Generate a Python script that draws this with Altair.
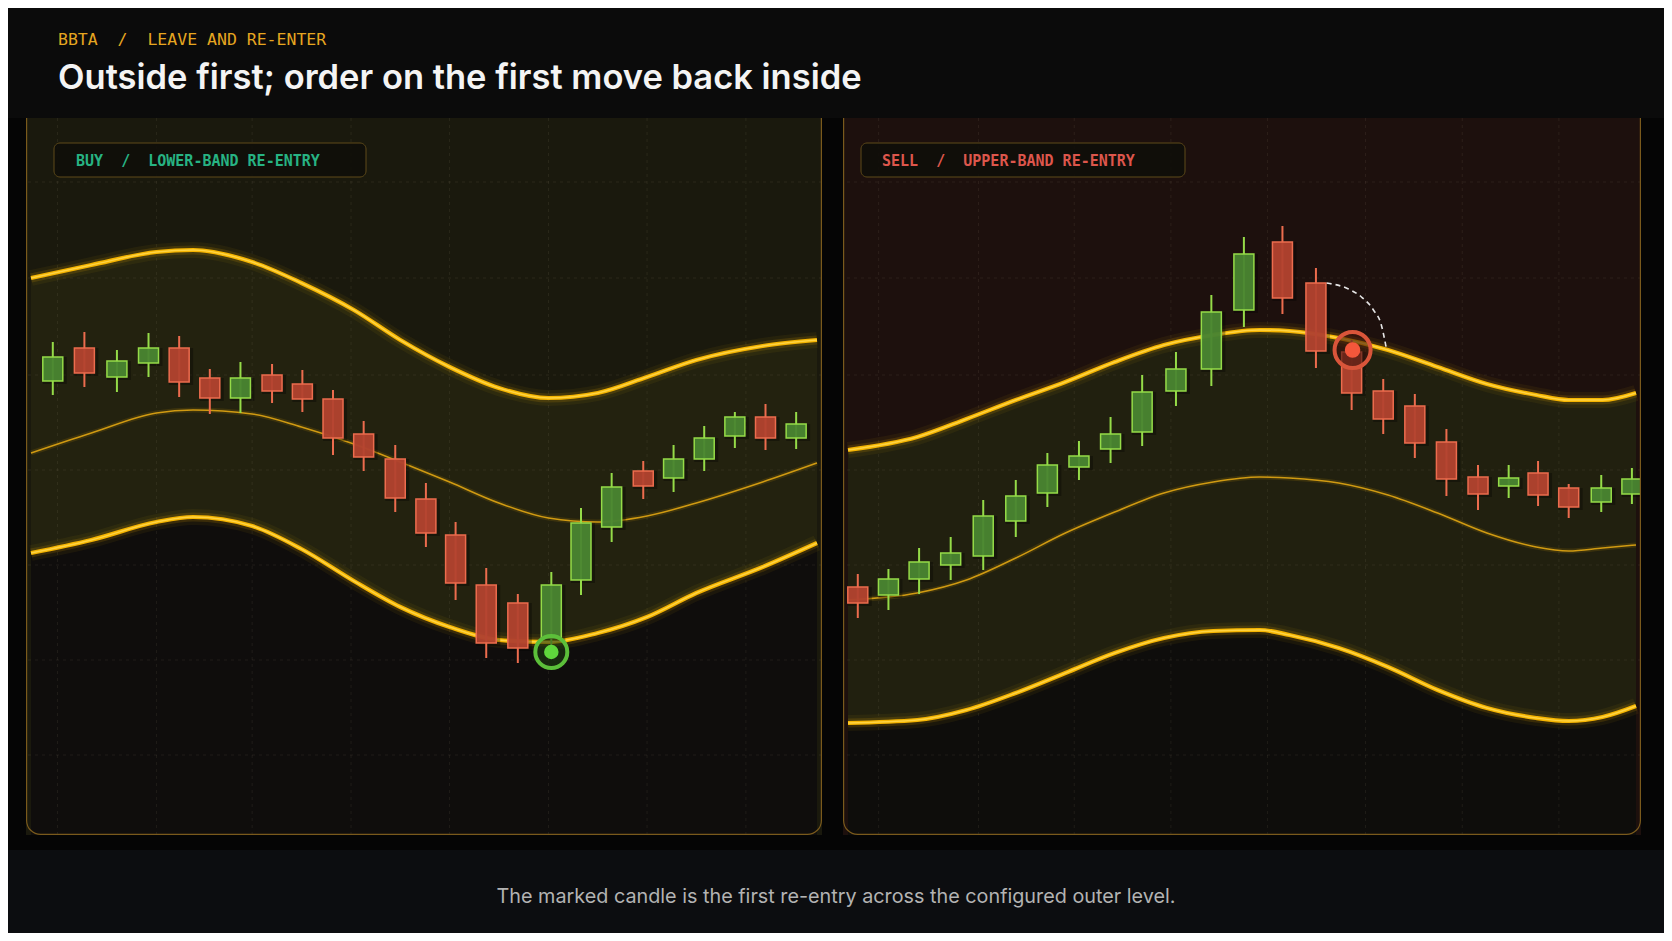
import altair as alt
import numpy as np
import pandas as pd

# ---------------- text ----------------
KICKER = "BBTA\u00a0\u00a0/\u00a0\u00a0LEAVE AND RE-ENTER"
TITLE = "Outside first; order on the first move back inside"
FOOTNOTE = "The marked candle is the first re-entry across the configured outer level."
BUY_LABEL = "BUY\u00a0\u00a0/\u00a0\u00a0LOWER-BAND RE-ENTRY"
SELL_LABEL = "SELL\u00a0\u00a0/\u00a0\u00a0UPPER-BAND RE-ENTRY"

# ---------------- shared scale / grid values ----------------
Y_DOMAIN = [0, 71.7]
GRID_Y = [65.3, 55.7, 46.0, 36.5, 27.0, 17.5, 8.0]

# ---------------- left panel: buy ----------------
BUY_X_DOMAIN = [0, 24.88]
BUY_GRID_X = [0.84, 3.97, 7.0, 10.13, 13.25, 16.38, 19.5, 22.63]
buy_t = [0.69, 1.69, 2.72, 3.72, 4.69, 5.66, 6.63, 7.63, 8.59, 9.56, 10.53, 11.53, 12.5,
         13.44, 14.41, 15.41, 16.47, 17.41, 18.38, 19.38, 20.34, 21.31, 22.28, 23.25, 24.22]
buy_open = [45.4, 48.7, 45.8, 47.2, 48.7, 45.7, 43.7, 46.0, 45.1, 43.6, 40.1, 37.6, 33.6,
            30.0, 25.0, 23.2, 19.7, 25.5, 30.8, 36.4, 35.7, 37.6, 39.9, 41.8, 39.7]
buy_high = [49.3, 50.3, 48.5, 50.2, 49.9, 46.6, 47.3, 47.1, 46.5, 44.5, 41.4, 39.0, 35.2,
            31.3, 26.7, 24.1, 26.3, 32.7, 36.2, 37.4, 39.0, 40.9, 42.3, 43.1, 42.3]
buy_low = [44.0, 44.8, 44.3, 45.8, 43.8, 42.1, 42.2, 43.2, 42.3, 38.0, 36.4, 32.3, 28.8,
           23.5, 17.7, 17.2, 18.3, 24.0, 29.3, 33.6, 34.3, 36.4, 38.7, 38.5, 38.6]
buy_close = [47.8, 46.2, 47.4, 48.7, 45.3, 43.7, 45.7, 44.4, 43.6, 39.7, 37.8, 33.7, 30.2,
             25.2, 19.2, 18.7, 25.0, 31.2, 34.8, 34.9, 37.6, 39.7, 41.8, 39.7, 41.1]
buy_band_t = [0, 1.91, 3.97, 5.13, 7.0, 8.56, 10.22, 11.69, 13.25, 14.81, 16.38, 17.94,
              19.5, 21.06, 23.16, 24.88]
buy_upper = [55.7, 57.0, 58.3, 58.5, 57.3, 55.2, 52.5, 49.5, 46.8, 44.7, 43.7, 44.2,
             45.8, 47.5, 48.9, 49.5]
buy_mid = [38.2, 40.2, 42.2, 42.5, 42.1, 40.8, 39.1, 37.3, 35.3, 33.2, 31.7, 31.3,
           31.9, 33.2, 35.3, 37.2]
buy_lower = [28.2, 29.5, 31.3, 31.8, 30.9, 28.6, 25.4, 22.8, 20.8, 19.5, 19.3, 20.2,
             21.8, 24.2, 26.8, 29.2]
buy_signal_t = [16.47]
buy_signal_p = [18.3]

# ---------------- right panel: sell ----------------
SELL_X_DOMAIN = [0, 24.94]
SELL_GRID_X = [0.97, 4.13, 7.16, 10.22, 13.28, 16.38, 19.44, 22.5]
sell_t = [0.31, 1.28, 2.25, 3.25, 4.28, 5.31, 6.31, 7.31, 8.31, 9.31, 10.38, 11.5, 12.53,
          13.75, 14.81, 15.94, 16.94, 17.94, 18.94, 19.94, 20.91, 21.84, 22.81, 23.84, 24.81]
sell_open = [24.8, 24.0, 25.6, 27.0, 27.9, 31.4, 34.2, 36.8, 38.6, 40.3, 44.4, 46.6, 52.5,
             59.3, 55.2, 48.3, 44.4, 42.9, 39.3, 35.8, 34.9, 36.2, 34.7, 33.3, 34.1]
sell_high = [26.1, 26.6, 28.7, 29.8, 33.5, 35.5, 38.2, 39.4, 41.8, 46.0, 48.3, 54.0, 59.8,
             60.9, 56.7, 49.5, 45.6, 44.1, 40.6, 37.0, 37.0, 37.4, 35.1, 36.0, 36.7]
sell_low = [21.7, 22.5, 24.1, 25.5, 26.5, 29.8, 32.8, 35.5, 37.2, 38.9, 42.9, 44.9, 50.8,
            52.1, 46.7, 42.5, 40.1, 37.7, 33.9, 32.5, 33.7, 32.9, 31.7, 32.3, 33.1]
sell_close = [23.2, 25.6, 27.3, 28.2, 31.9, 33.9, 37.0, 37.9, 40.1, 44.3, 46.6, 52.3, 58.1,
              53.7, 48.4, 44.2, 41.6, 39.2, 35.6, 34.1, 35.7, 34.0, 32.8, 34.7, 35.6]
sell_band_t = [0, 2.19, 3.75, 5.31, 6.88, 8.44, 10.0, 11.56, 13.03, 13.97, 15.53, 17.09,
               18.66, 20.22, 21.78, 22.81, 23.88, 24.94]
sell_upper = [38.5, 39.8, 41.6, 43.5, 45.3, 47.3, 49.0, 50.0, 50.5, 50.4, 49.7, 48.5,
              46.8, 45.1, 44.0, 43.5, 43.5, 44.2]
sell_mid = [23.5, 24.2, 25.5, 27.7, 30.2, 32.3, 34.2, 35.3, 35.8, 35.7, 35.2, 34.0,
            32.2, 30.2, 28.8, 28.4, 28.7, 29.0]
sell_lower = [11.2, 11.5, 12.5, 14.2, 16.2, 18.2, 19.7, 20.4, 20.5, 20.0, 18.7, 16.8,
              14.5, 12.7, 11.7, 11.4, 11.8, 12.9]
sell_signal_t = [15.97]
sell_signal_p = [48.5]
sell_arc_t = [15.15, 15.84, 16.25, 16.63, 16.88, 17.03]
sell_arc_p = [55.2, 54.6, 53.8, 52.5, 51.0, 48.8]

# ---------------- styling ----------------
MONO = "DejaVu Sans Mono"
SANS = "Inter"
GREEN_FILL, GREEN_EDGE = "#4a8632", "#95db48"
RED_FILL, RED_EDGE = "#b3432f", "#ec6c4e"
GOLD, GOLD_HI = "#f5b400", "#ffd84d"
GRID = "#fff2c0"
PANEL_H = 717
FULL_W = 1656


def build_panel(cfg):
    W, H = cfg["width"], PANEL_H
    xs = alt.Scale(domain=cfg["xdom"], nice=False, zero=False)
    ys = alt.Scale(domain=Y_DOMAIN, nice=False, zero=False)

    def X(f):
        return alt.X(f"{f}:Q", scale=xs, axis=None)

    def Y(f):
        return alt.Y(f"{f}:Q", scale=ys, axis=None)

    band = pd.DataFrame({"t": cfg["band_t"], "upper": cfg["upper"],
                         "mid": cfg["mid"], "lower": cfg["lower"]})
    c = pd.DataFrame({"t": cfg["t"], "open": cfg["open"], "high": cfg["high"],
                      "low": cfg["low"], "close": cfg["close"]})
    c["dir"] = np.where(c["close"] >= c["open"], "up", "down")
    c["body_lo"] = c[["open", "close"]].min(axis=1)
    c["body_hi"] = c[["open", "close"]].max(axis=1)
    gx = pd.DataFrame({"gx": cfg["grid_x"]})
    gy = pd.DataFrame({"gy": GRID_Y})
    sig = pd.DataFrame({"t": cfg["sig_t"], "p": cfg["sig_p"]})
    lab = pd.DataFrame({"label": [cfg["label"]]})

    dir_dom = ["up", "down"]
    edge_scale = alt.Scale(domain=dir_dom, range=[GREEN_EDGE, RED_EDGE])
    fill_scale = alt.Scale(domain=dir_dom, range=[GREEN_FILL, RED_FILL])

    b = alt.Chart(band)
    layers = [
        b.mark_area(color=cfg["band_fill"], interpolate="monotone", clip=True)
         .encode(x=X("t"), y=Y("upper"), y2="lower"),
        b.mark_area(color=cfg["bottom_fill"], interpolate="monotone", clip=True)
         .encode(x=X("t"), y=Y("lower"), y2=alt.value(H)),
        alt.Chart(gx).mark_rule(color=GRID, opacity=0.07, strokeDash=[3, 4], strokeWidth=1, clip=True)
         .encode(x=X("gx")),
        alt.Chart(gy).mark_rule(color=GRID, opacity=0.07, strokeDash=[3, 4], strokeWidth=1, clip=True)
         .encode(y=Y("gy")),
        # middle line
        b.mark_line(color=GOLD, opacity=0.12, strokeWidth=5, interpolate="monotone", clip=True)
         .encode(x=X("t"), y=Y("mid")),
        b.mark_line(color="#d09a12", strokeWidth=1.5, interpolate="monotone", clip=True)
         .encode(x=X("t"), y=Y("mid")),
    ]
    for f in ("upper", "lower"):
        for w, op, col in [(16, 0.06, GOLD), (9, 0.14, GOLD), (4.2, 1.0, GOLD), (1.5, 0.85, GOLD_HI)]:
            layers.append(
                b.mark_line(color=col, opacity=op, strokeWidth=w, interpolate="monotone", clip=True)
                 .encode(x=X("t"), y=Y(f)))

    cc = alt.Chart(c)
    layers += [
        cc.mark_bar(size=24, color="#000000", opacity=0.3, xOffset=2, yOffset=3, clip=True)
          .encode(x=X("t"), y=Y("body_lo"), y2="body_hi"),
        cc.mark_rule(strokeWidth=2, clip=True)
          .encode(x=X("t"), y=Y("low"), y2="high",
                  stroke=alt.Stroke("dir:N", scale=edge_scale, legend=None)),
        cc.mark_bar(size=20, strokeWidth=1.5, fillOpacity=0.95, clip=True)
          .encode(x=X("t"), y=Y("body_lo"), y2="body_hi",
                  fill=alt.Fill("dir:N", scale=fill_scale, legend=None),
                  stroke=alt.Stroke("dir:N", scale=edge_scale, legend=None)),
    ]

    if cfg.get("arc_t"):
        arc = pd.DataFrame({"t": cfg["arc_t"], "p": cfg["arc_p"]})
        layers.append(
            alt.Chart(arc).mark_line(color="#e6e6e6", strokeWidth=1.6, strokeDash=[5, 4],
                                     interpolate="monotone", clip=True)
            .encode(x=X("t"), y=Y("p")))

    s = alt.Chart(sig)
    layers += [
        s.mark_circle(size=cfg["ring_size"], fill=cfg["ring_fill"], fillOpacity=0.6,
                      stroke=cfg["ring_color"], strokeWidth=4, opacity=1, clip=True)
         .encode(x=X("t"), y=Y("p")),
        s.mark_circle(size=cfg["dot_size"], color=cfg["dot_color"], opacity=1, clip=True)
         .encode(x=X("t"), y=Y("p")),
    ]

    lb = alt.Chart(lab)
    bx0, bx1 = cfg["box_x"]
    layers += [
        lb.mark_rect(fill="#0f0e09", fillOpacity=0.9, stroke="#5e4a1a", strokeWidth=1, cornerRadius=6)
          .encode(x=alt.value(bx0), x2=alt.value(bx1), y=alt.value(25), y2=alt.value(59)),
        lb.mark_text(align="left", baseline="middle", font=MONO, fontSize=15, fontWeight="bold",
                     color=cfg["label_color"])
          .encode(x=alt.value(cfg["text_x"]), y=alt.value(43), text="label:N"),
        # panel frame (left, right and rounded bottom edges)
        lb.mark_rect(fillOpacity=0, stroke="#7a5a1c", strokeWidth=1.2,
                     cornerRadiusBottomLeft=14, cornerRadiusBottomRight=14, clip=True)
          .encode(x=alt.value(0.6), x2=alt.value(W - 0.6), y=alt.value(-10), y2=alt.value(H - 0.6)),
    ]

    return alt.layer(*layers).properties(
        width=W, height=H,
        view=alt.ViewBackground(fill=cfg["top_fill"], strokeWidth=0))


left = build_panel(dict(
    width=796, xdom=BUY_X_DOMAIN, grid_x=BUY_GRID_X,
    t=buy_t, open=buy_open, high=buy_high, low=buy_low, close=buy_close,
    band_t=buy_band_t, upper=buy_upper, mid=buy_mid, lower=buy_lower,
    sig_t=buy_signal_t, sig_p=buy_signal_p,
    ring_size=1024, ring_fill="#1d3a12", ring_color="#5cbf3a", dot_size=210, dot_color="#5fd63c",
    top_fill="#1a190d", band_fill="#23220f", bottom_fill="#0f0d0c",
    label=BUY_LABEL, label_color="#27b383", box_x=(28, 340), text_x=50,
))

right = build_panel(dict(
    width=798, xdom=SELL_X_DOMAIN, grid_x=SELL_GRID_X,
    t=sell_t, open=sell_open, high=sell_high, low=sell_low, close=sell_close,
    band_t=sell_band_t, upper=sell_upper, mid=sell_mid, lower=sell_lower,
    sig_t=sell_signal_t, sig_p=sell_signal_p, arc_t=sell_arc_t, arc_p=sell_arc_p,
    ring_size=1300, ring_fill="#3d130c", ring_color="#d9553a", dot_size=240, dot_color="#f4573b",
    top_fill="#1d100d", band_fill="#21200f", bottom_fill="#0e0d0b",
    label=SELL_LABEL, label_color="#dd564c", box_x=(18, 342), text_x=39,
))

# left gutter so the panels sit where they do in the original (invisible, fully inside its view)
spacer = alt.Chart(pd.DataFrame({"a": [0]})).mark_rect(opacity=0, clip=True).encode(
    x=alt.value(0), x2=alt.value(18), y=alt.value(0), y2=alt.value(PANEL_H)
).properties(width=18, height=PANEL_H, view=alt.ViewBackground(strokeWidth=0))

hdr = pd.DataFrame({"kicker": [KICKER], "title": [TITLE]})
header = alt.layer(
    alt.Chart(hdr).mark_text(align="left", baseline="alphabetic", font=MONO, fontSize=16.5,
                             color="#e6a620")
    .encode(x=alt.value(50), y=alt.value(37), text="kicker:N"),
    alt.Chart(hdr).mark_text(align="left", baseline="alphabetic", font=SANS, fontSize=34.5,
                             fontWeight=600, color="#f4f4f4")
    .encode(x=alt.value(50), y=alt.value(81), text="title:N"),
).properties(width=FULL_W, height=110, view=alt.ViewBackground(fill="#0b0b0b", strokeWidth=0))

ftr = pd.DataFrame({"note": [FOOTNOTE]})
footer = alt.layer(
    alt.Chart(ftr).mark_rect(color="#0c0d10")
    .encode(x=alt.value(0), x2=alt.value(FULL_W), y=alt.value(15), y2=alt.value(98)),
    alt.Chart(ftr).mark_text(align="center", baseline="middle", font=SANS, fontSize=19.8,
                             color="#b3b3b3")
    .encode(x=alt.value(828), y=alt.value(62), text="note:N"),
).properties(width=FULL_W, height=98, view=alt.ViewBackground(strokeWidth=0))

chart = alt.vconcat(
    header,
    alt.hconcat(spacer, alt.hconcat(left, right, spacing=21), spacing=0),
    footer,
    spacing=0,
).properties(
    padding={"left": 0, "right": 0, "top": 0, "bottom": 0},
    background="#050505",
).configure_view(strokeWidth=0)

chart.save("out.html", embed_options={"renderer": "svg", "actions": False})
